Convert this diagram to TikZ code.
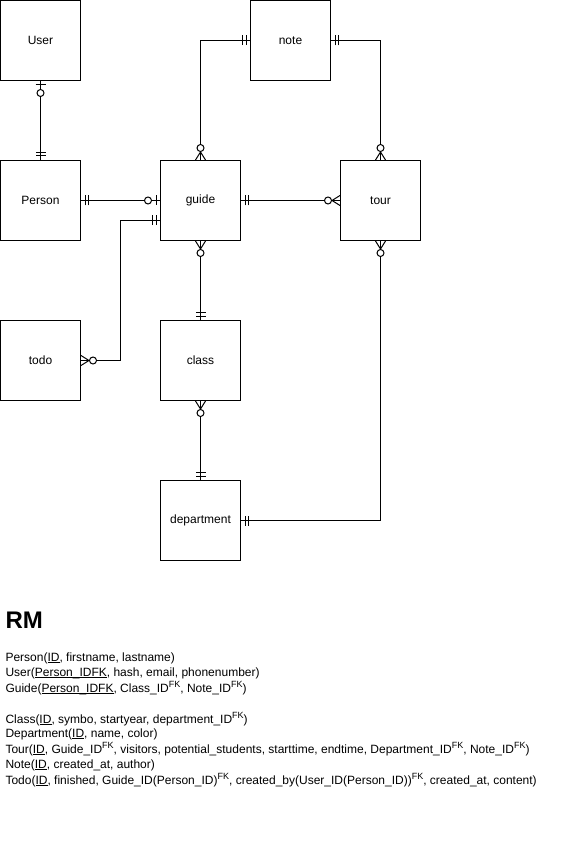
\documentclass[tikz,border=0pt]{standalone}
\usepackage{fontspec}
\setmainfont{Liberation Sans}
\usetikzlibrary{arrows.meta}

\pgfdeclarearrow{
  name = ermany,
  setup code = {
    \pgfarrowssettipend{0pt}
    \pgfarrowssetlineend{0pt}
    \pgfarrowssetbackend{-16pt}
  },
  drawing code = {
    \pgfpathmoveto{\pgfqpoint{0pt}{5pt}}
    \pgfpathlineto{\pgfqpoint{-8pt}{0pt}}
    \pgfpathlineto{\pgfqpoint{0pt}{-5pt}}
    \pgfusepathqstroke
    \pgfpathcircle{\pgfqpoint{-12pt}{0pt}}{3.5pt}
    \pgfsetfillcolor{white}
    \pgfusepathqfillstroke
  }
}
\pgfdeclarearrow{
  name = erone,
  setup code = {
    \pgfarrowssettipend{0pt}
    \pgfarrowssetlineend{0pt}
    \pgfarrowssetbackend{-9pt}
  },
  drawing code = {
    \pgfpathmoveto{\pgfqpoint{-4pt}{5pt}}
    \pgfpathlineto{\pgfqpoint{-4pt}{-5pt}}
    \pgfpathmoveto{\pgfqpoint{-7.5pt}{5pt}}
    \pgfpathlineto{\pgfqpoint{-7.5pt}{-5pt}}
    \pgfusepathqstroke
  }
}
\pgfdeclarearrow{
  name = erzeroone,
  setup code = {
    \pgfarrowssettipend{0pt}
    \pgfarrowssetlineend{0pt}
    \pgfarrowssetbackend{-16pt}
  },
  drawing code = {
    \pgfpathmoveto{\pgfqpoint{-4pt}{5pt}}
    \pgfpathlineto{\pgfqpoint{-4pt}{-5pt}}
    \pgfusepathqstroke
    \pgfpathcircle{\pgfqpoint{-12pt}{0pt}}{3.5pt}
    \pgfsetfillcolor{white}
    \pgfusepathqfillstroke
  }
}

\newcommand{\fkey}{\raisebox{4.5pt}{\fontsize{9}{9}\selectfont FK}}
\newcommand{\pkey}[1]{\underline{\smash{#1}}}

\tikzset{
  entity/.style={draw, shape=rectangle, minimum width=80pt, minimum height=80pt, font=\fontsize{12}{14}\selectfont},
  relation/.style={anchor=base west, inner sep=0pt, font=\fontsize{12}{14}\selectfont}
}

\begin{document}
\begin{tikzpicture}[x=1pt, y=-1pt, line width=1pt]
\useasboundingbox (0,0) rectangle (561,866);

\node [entity] (user) at (40.5,40.5) {User};
\node [entity] (note) at (290.5,40.5) {note};
\node [entity] (person) at (40.5,200.5) {Person};
\node [entity] (guide) at (200.5,200.5) {guide};
\node [entity] (tour) at (380.5,200.5) {tour};
\node [entity] (todo) at (40.5,360.5) {todo};
\node [entity] (class) at (200.5,360.5) {class};
\node [entity] (department) at (200.5,520.5) {department};

\draw [erzeroone-erone] (user) -- (person);
\draw [erone-erzeroone] (person) -- (guide);
\draw [ermany-erone] (guide) |- (note);
\draw [erone-ermany] (note) -| (tour);
\draw [erone-ermany] (guide) -- (tour);
\draw [erone-ermany] ([yshift=-20pt]guide.west) -- ++(-40,0) |- (todo);
\draw [ermany-erone] (guide) -- (class);
\draw [ermany-erone] (class) -- (department);
\draw [ermany-erone] (tour) |- (department);

\node [anchor=west, inner sep=0pt, font=\bfseries\fontsize{24}{28}\selectfont] (heading) at (5,620) {RM};

\node [relation] (rperson) at (5,661) {Person(\pkey{ID}, firstname, lastname)};
\node [relation] (ruser) at (5,676) {User(\pkey{Person\_IDFK}, hash, email, phonenumber)};
\node [relation] (rguide) at (5,692) {Guide(\pkey{Person\_IDFK}, Class\_ID\fkey, Note\_ID\fkey)};
\node [relation] (rclass) at (5,723) {Class(\pkey{ID}, symbo, startyear, department\_ID\fkey)};
\node [relation] (rdepartment) at (5,737) {Department(\pkey{ID}, name, color)};
\node [relation] (rtour) at (5,753) {Tour(\pkey{ID}, Guide\_ID\fkey, visitors, potential\_students, starttime, endtime, Department\_ID\fkey, Note\_ID\fkey)};
\node [relation] (rnote) at (5,768) {Note(\pkey{ID}, created\_at, author)};
\node [relation] (rtodo) at (5,784) {Todo(\pkey{ID}, finished, Guide\_ID(Person\_ID)\fkey, created\_by(User\_ID(Person\_ID))\fkey, created\_at, content)};
\end{tikzpicture}
\end{document}
